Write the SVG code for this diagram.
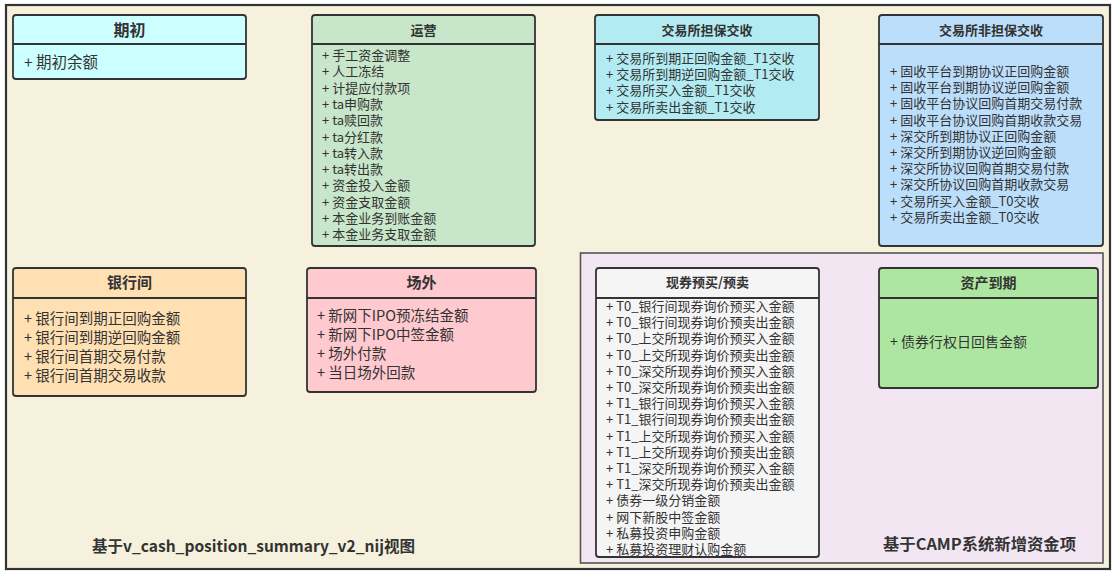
<svg xmlns="http://www.w3.org/2000/svg" width="1119" height="577" viewBox="0 0 1119 577">
<style>
text{font-family:"Noto Sans CJK SC","Microsoft YaHei",sans-serif;fill:#333}
.t{font-weight:bold;text-anchor:middle}
.box{stroke:#333;stroke-width:1.8}
.div{stroke:#333;stroke-width:1.8}
.i13{font-size:13px}
.lbl{font-size:15.5px;font-weight:bold}
</style>
<rect width="1119" height="577" fill="#ffffff"/>
<rect x="6" y="5" width="1104" height="564" fill="#f5f1dc" stroke="#333" stroke-width="2.2"/>
<rect x="580.5" y="253" width="522.5" height="310" fill="#f3e6f3" stroke="#555" stroke-width="1.6"/>

<g id="qichu">
<rect class="box" x="13" y="15" width="233" height="64" rx="3" fill="#ccffff"/>
<line class="div" x1="13" y1="44" x2="246" y2="44"/>
<text class="t" x="129.5" y="35.5" font-size="16">期初</text>
<text x="24" y="68" font-size="15.5">+ 期初余额</text>
</g>

<g id="yunying">
<rect class="box" x="312" y="15" width="223" height="231" rx="3" fill="#c8e6c9"/>
<line class="div" x1="312" y1="44" x2="535" y2="44"/>
<text class="t" x="423.5" y="34.5" font-size="13">运营</text>
<g class="i13">
<text x="322" y="60">+ 手工资金调整</text>
<text x="322" y="76.3">+ 人工冻结</text>
<text x="322" y="92.6">+ 计提应付款项</text>
<text x="322" y="108.9">+ ta申购款</text>
<text x="322" y="125.2">+ ta赎回款</text>
<text x="322" y="141.5">+ ta分红款</text>
<text x="322" y="157.8">+ ta转入款</text>
<text x="322" y="174.1">+ ta转出款</text>
<text x="322" y="190.4">+ 资金投入金额</text>
<text x="322" y="206.7">+ 资金支取金额</text>
<text x="322" y="223">+ 本金业务到账金额</text>
<text x="322" y="239.3">+ 本金业务支取金额</text>
</g>
</g>

<g id="danbao">
<rect class="box" x="595" y="15" width="224" height="105" rx="3" fill="#b2ebf2"/>
<line class="div" x1="595" y1="44" x2="819" y2="44"/>
<text class="t" x="707" y="34.5" font-size="13">交易所担保交收</text>
<g class="i13">
<text x="606" y="62.7">+ 交易所到期正回购金额_T1交收</text>
<text x="606" y="79">+ 交易所到期逆回购金额_T1交收</text>
<text x="606" y="95.3">+ 交易所买入金额_T1交收</text>
<text x="606" y="111.6">+ 交易所卖出金额_T1交收</text>
</g>
</g>

<g id="feidanbao">
<rect class="box" x="879" y="15" width="224" height="231" rx="3" fill="#bbdefb"/>
<line class="div" x1="879" y1="44" x2="1103" y2="44"/>
<text class="t" x="991" y="34.5" font-size="13">交易所非担保交收</text>
<g class="i13">
<text x="890" y="76">+ 固收平台到期协议正回购金额</text>
<text x="890" y="92.2">+ 固收平台到期协议逆回购金额</text>
<text x="890" y="108.4">+ 固收平台协议回购首期交易付款</text>
<text x="890" y="124.6">+ 固收平台协议回购首期收款交易</text>
<text x="890" y="140.8">+ 深交所到期协议正回购金额</text>
<text x="890" y="157">+ 深交所到期协议逆回购金额</text>
<text x="890" y="173.2">+ 深交所协议回购首期交易付款</text>
<text x="890" y="189.4">+ 深交所协议回购首期收款交易</text>
<text x="890" y="205.6">+ 交易所买入金额_T0交收</text>
<text x="890" y="221.8">+ 交易所卖出金额_T0交收</text>
</g>
</g>

<g id="yinhangjian">
<rect class="box" x="13" y="268" width="233" height="128" rx="3" fill="#ffe0b2"/>
<line class="div" x1="13" y1="298" x2="246" y2="298"/>
<text class="t" x="129.5" y="287.7" font-size="15">银行间</text>
<g font-size="14.5">
<text x="24" y="323.8">+ 银行间到期正回购金额</text>
<text x="24" y="342.8">+ 银行间到期逆回购金额</text>
<text x="24" y="361.8">+ 银行间首期交易付款</text>
<text x="24" y="380.8">+ 银行间首期交易收款</text>
</g>
</g>

<g id="changwai">
<rect class="box" x="307" y="268" width="229" height="124" rx="3" fill="#ffc9d0"/>
<line class="div" x1="307" y1="298" x2="536" y2="298"/>
<text class="t" x="421.5" y="288" font-size="15">场外</text>
<g font-size="14.5">
<text x="317" y="321.2">+ 新网下IPO预冻结金额</text>
<text x="317" y="340.2">+ 新网下IPO中签金额</text>
<text x="317" y="359.2">+ 场外付款</text>
<text x="317" y="378.2">+ 当日场外回款</text>
</g>
</g>

<g id="xianquan">
<rect class="box" x="596" y="268" width="223" height="289" rx="3" fill="#f5f5f5"/>
<line class="div" x1="596" y1="298" x2="819" y2="298"/>
<text class="t" x="707.5" y="287.3" font-size="13">现券预买/预卖</text>
<g class="i13">
<text x="606" y="311">+ T0_银行间现券询价预买入金额</text>
<text x="606" y="327.2">+ T0_银行间现券询价预卖出金额</text>
<text x="606" y="343.4">+ T0_上交所现券询价预买入金额</text>
<text x="606" y="359.6">+ T0_上交所现券询价预卖出金额</text>
<text x="606" y="375.8">+ T0_深交所现券询价预买入金额</text>
<text x="606" y="392">+ T0_深交所现券询价预卖出金额</text>
<text x="606" y="408.2">+ T1_银行间现券询价预买入金额</text>
<text x="606" y="424.4">+ T1_银行间现券询价预卖出金额</text>
<text x="606" y="440.6">+ T1_上交所现券询价预买入金额</text>
<text x="606" y="456.8">+ T1_上交所现券询价预卖出金额</text>
<text x="606" y="473">+ T1_深交所现券询价预买入金额</text>
<text x="606" y="489.2">+ T1_深交所现券询价预卖出金额</text>
<text x="606" y="505.4">+ 债券一级分销金额</text>
<text x="606" y="521.6">+ 网下新股中签金额</text>
<text x="606" y="537.8">+ 私募投资申购金额</text>
<text x="606" y="554">+ 私募投资理财认购金额</text>
</g>
</g>

<g id="zichandaoqi">
<rect class="box" x="879" y="268" width="219" height="120" rx="3" fill="#ade6a0"/>
<line class="div" x1="879" y1="298" x2="1098" y2="298"/>
<text class="t" x="988.5" y="288.3" font-size="14">资产到期</text>
<text x="890" y="347.3" font-size="14">+ 债券行权日回售金额</text>
</g>

<g id="labels">
<text class="lbl" x="92" y="551.7" textLength="323" lengthAdjust="spacingAndGlyphs">基于v_cash_position_summary_v2_nij视图</text>
<text class="lbl" x="883" y="549.7" textLength="193" lengthAdjust="spacingAndGlyphs">基于CAMP系统新增资金项</text>
</g>
<g id="connectors"/>
</svg>
